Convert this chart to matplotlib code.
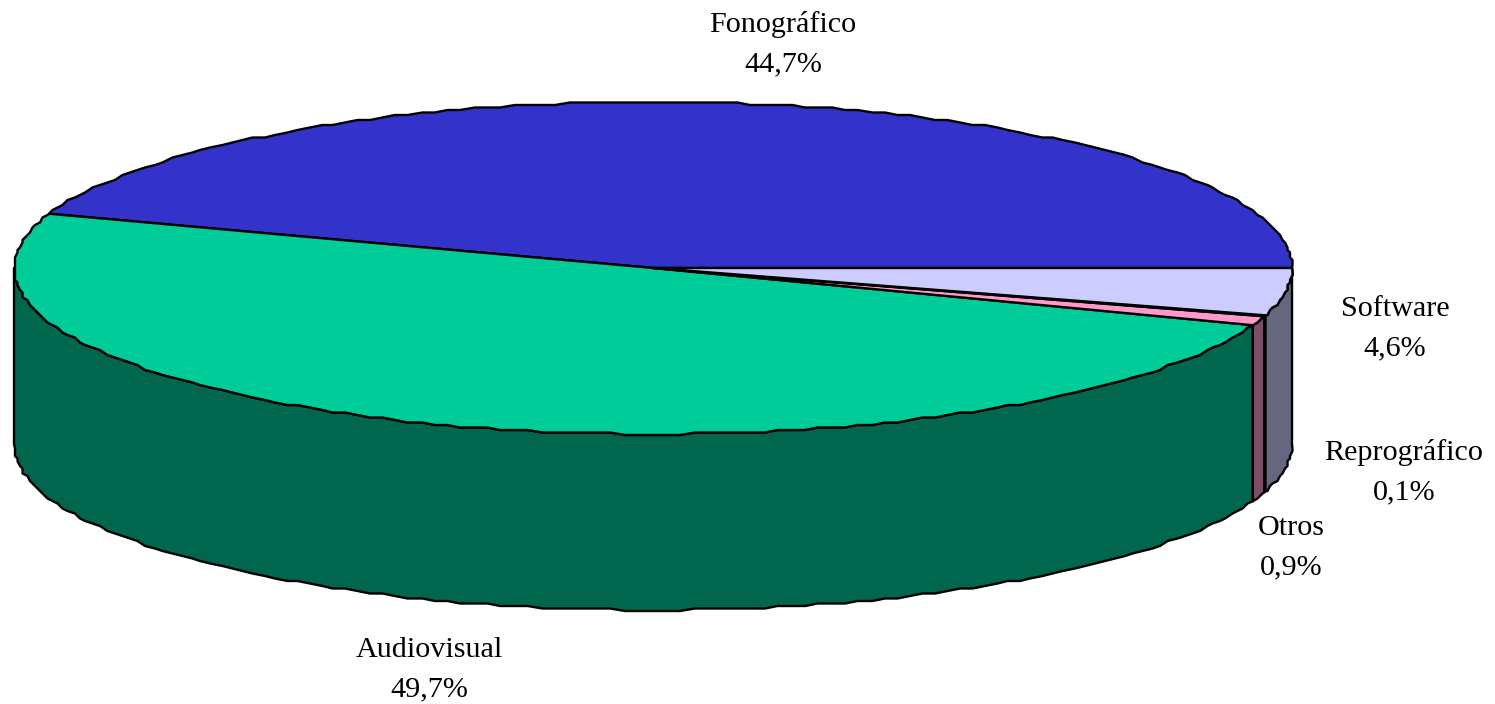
import numpy as np
import matplotlib
matplotlib.use("Agg")
import matplotlib.pyplot as plt
from matplotlib.patches import Polygon

categories = ["Fonográfico", "Audiovisual", "Otros", "Reprográfico", "Software"]
values = [44.7, 49.7, 0.9, 0.1, 4.6]
value_labels = ["44,7%", "49,7%", "0,9%", "0,1%", "4,6%"]
top_colors = ["#3333CC", "#00CC99", "#FF99CC", "#CC3366", "#CCCCFF"]
side_colors = ["#1A1A66", "#00664D", "#804D66", "#661A33", "#666680"]

W, H = 1495, 704
fig = plt.figure(figsize=(W / 100, H / 100), dpi=100)
ax = fig.add_axes([0, 0, 1, 1])
ax.set_xlim(0, W)
ax.set_ylim(H, 0)
ax.axis("off")

cx, cy, rx, ry, depth = 653, 268, 639, 166, 176
GRID = 2.5   # the reference outline is slightly quantised
STEP = 1.25  # degrees between outline points


def point(a):
    t = np.radians(a)
    return cx + rx * np.cos(t), cy - ry * np.sin(t)


def rim(a0, a1, dy=0.0):
    """Outline from a0 to a1: exact ends, snapped points on a shared angle grid."""
    inner = np.arange(np.ceil(a0 / STEP), np.floor(a1 / STEP) + 1) * STEP
    inner = inner[(inner > a0 + 0.3) & (inner < a1 - 0.3)]
    x, y = point(inner)
    x = np.round(x / GRID) * GRID
    y = np.round(y / GRID) * GRID
    xs = np.concatenate([[point(a0)[0]], x, [point(a1)[0]]])
    ys = np.concatenate([[point(a0)[1]], y, [point(a1)[1]]])
    return np.column_stack([xs, ys + dy])


edges = np.concatenate([[0], np.cumsum(values)]) / sum(values) * 360

# side wall: only the front half (180-360 degrees) is visible
for a0, a1, col in zip(edges[:-1], edges[1:], side_colors):
    lo, hi = max(a0, 180), min(a1, 360)
    if hi <= lo:
        continue
    pts = np.vstack([rim(lo, hi), rim(lo, hi, depth)[::-1]])
    ax.add_patch(Polygon(pts, closed=True, fc=col, ec="black", lw=1.7, joinstyle="round"))

# top face
for a0, a1, col in zip(edges[:-1], edges[1:], top_colors):
    pts = np.vstack([[cx, cy], rim(a0, a1)])
    ax.add_patch(Polygon(pts, closed=True, fc=col, ec="black", lw=1.7, joinstyle="round"))

label_pos = [(783, 44), (429, 670), (1291, 548), (1404, 472), (1395, 329)]
for name, val, (x, y) in zip(categories, value_labels, label_pos):
    ax.text(x, y, f"{name}\n{val}", ha="center", va="center", fontsize=21.7,
            family="Liberation Serif", color="black", linespacing=1.67)

fig.savefig("out.png", dpi=100, facecolor="white")
